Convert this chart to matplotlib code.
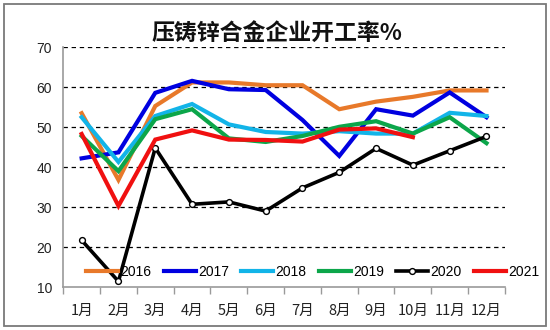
import matplotlib
matplotlib.use("Agg")
import matplotlib.pyplot as plt
from matplotlib.patches import Rectangle
import numpy as np

plt.rcParams['font.family'] = ['Noto Sans CJK SC', 'DejaVu Sans']

# Monthly operating rate of die-cast zinc alloy producers (%)
months = ['1月', '2月', '3月', '4月', '5月', '6月', '7月', '8月', '9月', '10月', '11月', '12月']
y2016 = [53.5, 36.8, 55.3, 61.2, 61.2, 60.5, 60.5, 54.5, 56.4, 57.6, 59.2, 59.2]
y2017 = [42.2, 43.7, 58.6, 61.6, 59.5, 59.3, 51.8, 42.8, 54.5, 52.9, 58.7, 52.5]
y2018 = [52.5, 41.3, 52.8, 55.8, 50.7, 48.8, 48.4, 49.0, 48.4, 48.4, 53.6, 52.8]
y2019 = [47.8, 39.0, 52.0, 54.5, 47.2, 46.3, 47.8, 50.1, 51.5, 48.4, 52.5, 46.0]
y2020 = [21.7, 11.4, 44.8, 30.7, 31.3, 29.0, 34.8, 38.7, 44.7, 40.5, 44.1, 47.7]
y2021 = [48.3, 30.3, 46.9, 49.2, 46.9, 46.8, 46.4, 49.4, 49.7, 47.5]
yticks = [10, 20, 30, 40, 50, 60, 70]

series = [
    ('2016', y2016, '#E8792A'),
    ('2017', y2017, '#0000E0'),
    ('2018', y2018, '#12B4E8'),
    ('2019', y2019, '#0CA64A'),
    ('2020', y2020, '#000000'),
    ('2021', y2021, '#F01010'),
]

fig = plt.figure(figsize=(5.5, 3.3), dpi=100)
ax = fig.add_axes([0.115, 0.1303, 0.803, 0.7264])

x = np.arange(len(months))
for name, vals, col in series:
    xs = x[:len(vals)]
    if name == '2020':
        ax.plot(xs, vals, color=col, lw=2.6, marker='o', ms=4.2,
                mfc='white', mec='black', mew=1.0, label=name, zorder=3)
    else:
        ax.plot(xs, vals, color=col, lw=3.0, label=name, zorder=3,
                solid_joinstyle='miter')

ax.set_xlim(-0.5, len(months) - 0.5)
ax.set_ylim(10, 70)
ax.set_yticks(yticks)
ax.set_yticklabels([str(v) for v in yticks], fontsize=10,
                   family=['Liberation Sans', 'DejaVu Sans'], color='#222222')
ax.tick_params(axis='y', length=0, pad=8)

for v in yticks[1:]:
    ax.axhline(v, color='black', lw=0.9, ls=(0, (3.5, 3)), zorder=1)

ax.set_xticks(x)
ax.set_xticklabels(months, fontsize=10.5, color='#222222')
ax.set_xticks(np.arange(-0.5, len(months), 1.0), minor=True)
ax.tick_params(axis='x', which='major', length=0, pad=12)
ax.tick_params(axis='x', which='minor', length=5, color='#9a9a9a', width=1)

for s in ['top', 'right']:
    ax.spines[s].set_visible(False)
for s in ['left', 'bottom']:
    ax.spines[s].set_color('#9a9a9a')
    ax.spines[s].set_linewidth(1.2)

leg = ax.legend(loc='center', bbox_to_anchor=(0.565, 0.062), ncol=6,
                frameon=False, handlelength=2.3, handletextpad=0.15,
                columnspacing=0.9, borderaxespad=0,
                prop={'family': ['Liberation Sans', 'DejaVu Sans'], 'size': 10})

fig.text(0.503, 0.90, '压铸锌合金企业开工率%', ha='center', va='center',
         fontsize=16.5, fontweight='black', color='#111111')

fig.patches.append(Rectangle((4 / 550, 4 / 330), 542 / 550, 322 / 330,
                             transform=fig.transFigure, fill=False,
                             edgecolor='#7a7a7a', lw=1.3))

fig.savefig('out.png', dpi=100)
